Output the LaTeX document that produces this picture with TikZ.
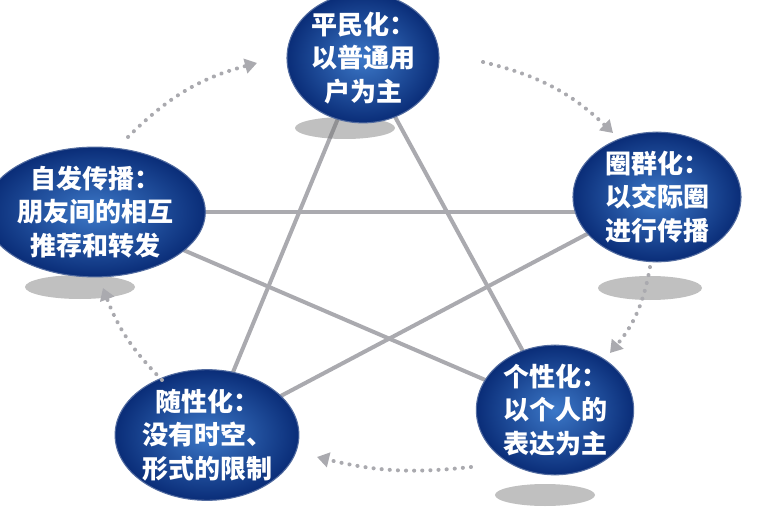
\documentclass[tikz,border=0pt]{standalone}
\usepackage{fontspec}
\newfontfamily\cjk{Noto Sans CJK SC}
\usetikzlibrary{shapes.geometric,arrows.meta,backgrounds}
\definecolor{bdark}{RGB}{10,45,120}
\definecolor{blight}{RGB}{60,120,200}
\definecolor{lgray}{RGB}{170,170,175}
\tikzset{
 bub/.style={ellipse,inner sep=0pt,minimum width=#1,align=center,text=white,font=\cjk\bfseries\fontsize{19.5}{25}\selectfont,
   draw=bdark!70,line width=0.8pt,inner color=blight,outer color=bdark},
 shad/.style={fill=black!55,opacity=0.45},
 star/.style={draw=lgray,line width=3pt},
 flow/.style={draw=lgray,line width=3pt,dash pattern=on 0.1pt off 6pt,line cap=round,-{Triangle[length=9pt,width=11pt,fill=lgray]}}
}
\begin{document}
\begin{tikzpicture}[x=0.75pt,y=-0.75pt]
\useasboundingbox (0,0) rectangle (768,510);
% shadows
\fill[shad] (345,128) ellipse [x radius=50,y radius=11];
\fill[shad] (650,288) ellipse [x radius=52,y radius=12];
\fill[shad] (545,495) ellipse [x radius=50,y radius=11];
\fill[shad] (80,287) ellipse [x radius=55,y radius=12];
\node[bub=114pt,minimum height=84pt] (T) at (363,58) {平民化：\\以普通用\\户为主};
\node[bub=126pt,minimum height=88pt] (R) at (657,197) {圈群化：\\以交际圈\\进行传播};
\node[bub=118pt,minimum height=94pt] (BR) at (555,410) {个性化：\\以个人的\\表达为主};
\node[bub=130pt,minimum height=98pt] (BL) at (207,435) {随性化：\\没有时空、\\形式的限制};
\node[bub=140pt,minimum height=84pt] (L) at (95,212) {自发传播：\\朋友间的相互\\推荐和转发};
\begin{scope}[on background layer]
\draw[star] (T.center) -- (BL.center);
\draw[star] (T.center) -- (BR.center);
\draw[star] (L.center) -- (L.center -| R.center);
\draw[star] (L.center) -- (BR.center);
\draw[star] (R.center) -- (BL.center);
\end{scope}
\coordinate (a1) at (483,62); \coordinate (a2) at (613,133);
\coordinate (b1) at (650,267); \coordinate (b2) at (610,353);
\coordinate (c1) at (471,467); \coordinate (c2) at (317,457);
\coordinate (d1) at (162,380); \coordinate (d2) at (103,288);
\coordinate (e1) at (128,137); \coordinate (e2) at (257,63);
\draw[flow] (a1) to[bend left=15] (a2);
\draw[flow] (b1) to[bend left=15] (b2);
\draw[flow] (c1) to[bend left=10] (c2);
\draw[flow] (d1) to[bend left=12] (d2);
\draw[flow] (e1) to[bend left=15] (e2);
\end{tikzpicture}
\end{document}
